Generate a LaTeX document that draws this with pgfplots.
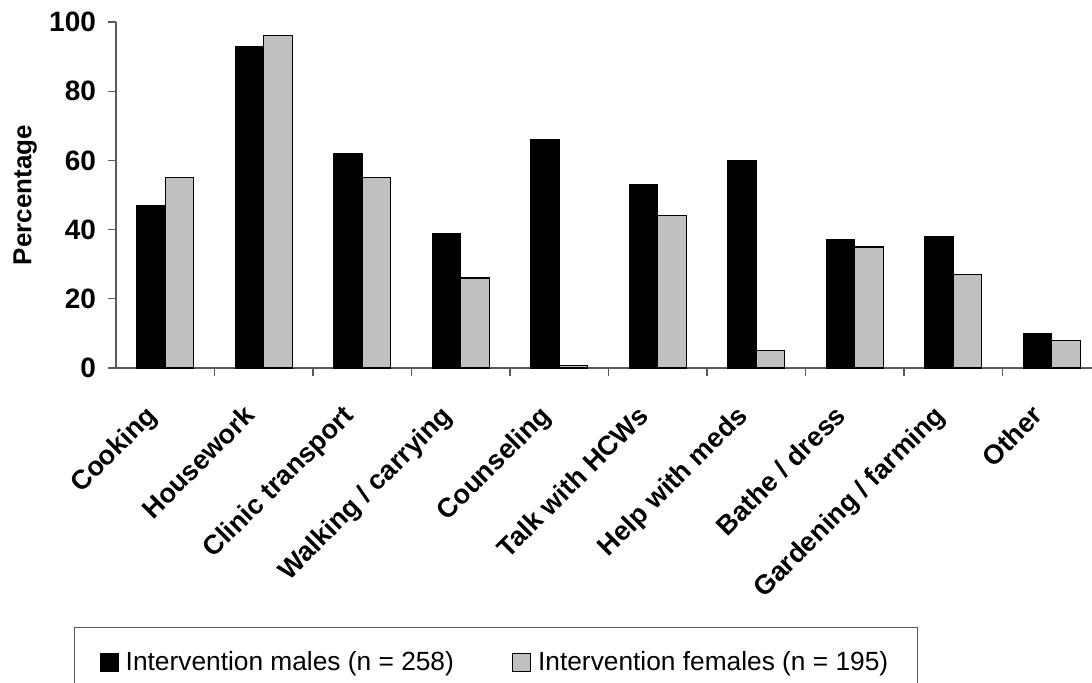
\documentclass[border=0pt]{standalone}
\usepackage{fontspec}
\setmainfont{Liberation Sans}
\usepackage{pgfplots}
\pgfplotsset{compat=1.18}
\definecolor{barsilver}{RGB}{192,192,192}
\definecolor{axgray}{RGB}{90,90,90}
\begin{document}
\begin{tikzpicture}
\begin{axis}[
  at={(0,0)}, anchor=south west,
  scale only axis, width=488pt, height=173pt,
  xmin=-0.5, xmax=9.41, ymin=0, ymax=100,
  axis lines*=left,
  axis line style={draw=axgray, line width=0.6pt},
  ybar=0pt, bar width=0.29,
  xtick={0,...,9},
  xticklabels={Cooking, Housework, Clinic transport, Walking / carrying, Counseling, Talk with HCWs, Help with meds, Bathe / dress, Gardening / farming, Other},
  major x tick style={draw=none},
  minor xtick={0.5,1.5,...,8.5},
  minor x tick style={draw=axgray, line width=0.6pt},
  ytick={0,20,...,100},
  y tick style={draw=axgray, line width=0.6pt},
  tick align=outside, major tick length=4pt, minor tick length=4pt,
  /pgf/number format/assume math mode=true,
  yticklabel style={font=\fontsize{14}{16}\selectfont\bfseries, xshift=-2.5pt},
  xticklabel style={rotate=45, anchor=north east, xshift=-13.7pt, yshift=1.3pt, font=\fontsize{13.5}{16}\selectfont\bfseries},
  ylabel={Percentage},
  ylabel style={at={(axis description cs:-0.093,0.5)}, anchor=center, font=\fontsize{13}{15}\selectfont\bfseries},
  legend columns=2,
  legend style={at={(-0.043,-0.7486)}, anchor=north west, draw=axgray, line width=0.6pt,
    font=\fontsize{13.15}{15}\selectfont, inner xsep=12.5pt, inner ysep=10pt,
    /tikz/every even column/.append style={column sep=27pt}},
  legend cell align=left,
  legend image code/.code={\draw[#1, line width=0.6pt] (0pt,-4.5pt) rectangle (9pt,4.5pt); \path (10.5pt,0pt);},
]
\addplot[fill=black, draw=black, line width=0.5pt] coordinates {
(0,47) (1,93) (2,62) (3,39) (4,66) (5,53) (6,60) (7,37) (8,38) (9,10)};
\addplot[fill=barsilver, draw=black, line width=0.6pt] coordinates {
(0,55) (1,96) (2,55) (3,26) (4,0.7) (5,44) (6,5) (7,35) (8,27) (9,8)};
\legend{Intervention males (n = 258), Intervention females (n = 195)}
\end{axis}
\pgfresetboundingbox
\path[use as bounding box] (-58pt,-157pt) rectangle (488pt,184pt);
\end{tikzpicture}
\end{document}
